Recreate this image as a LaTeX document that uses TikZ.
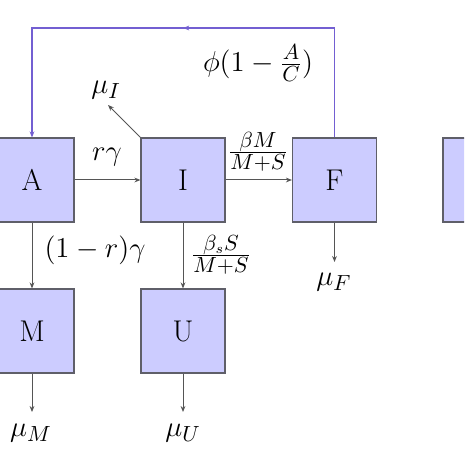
\documentclass[tikz,border=0pt]{standalone}
\usetikzlibrary{arrows.meta,decorations.markings}
\definecolor{boxfill}{RGB}{204,204,255}
\definecolor{boxline}{RGB}{95,95,105}
\definecolor{arrline}{RGB}{85,85,85}
\definecolor{loopcol}{RGB}{115,95,210}
\begin{document}
\begin{tikzpicture}[x=0.5pt,y=-0.5pt,
  font=\fontsize{15}{18}\selectfont,
  comp/.style={draw=boxline,fill=boxfill,line width=0.6pt,minimum size=42pt,inner sep=0pt},
  flow/.style={draw=arrline,line width=0.5pt,-{Stealth[length=3pt,width=2.4pt]}},
  loopline/.style={draw=loopcol,line width=0.6pt,-{Stealth[length=3pt,width=2.4pt]},
    postaction={decorate},
    decoration={markings,mark=at position 0.5 with {\arrow{Stealth[length=3pt,width=2.4pt]}}}},
  lab/.style={inner sep=0pt,font=\fontsize{15}{18}\selectfont}]
\useasboundingbox (0,0) rectangle (464,464);
\clip (0,0) rectangle (464,464);
\node[comp] (A) at (32,180) {A};
\node[comp] (I) at (183,180) {I};
\node[comp] (F) at (334.5,180) {F};
\node[comp] (X) at (485,180) {};
\node[comp] (M) at (32,331) {M};
\node[comp] (U) at (183,331) {U};
\coordinate (top) at (31,28);
\coordinate (muIend) at (108,105);
\coordinate (muFend) at (334.5,262);
\coordinate (muMend) at (32,412);
\coordinate (muUend) at (183,412);
% flows
\draw[flow] (A) -- (I);
\draw[flow] (I) -- (F);
\draw[flow] (A) -- (M);
\draw[flow] (I) -- (U);
\draw[flow] (I.north west) -- (muIend);
\draw[flow] (F) -- (muFend);
\draw[flow] (M) -- (muMend);
\draw[flow] (U) -- (muUend);
\draw[loopline] (F.north) |- (A.north |- top) -- (A.north);
% labels
\node[lab] (lrg) at (107,157) {$r\gamma$};
\node[lab] (lbm) at (258,152) {$\frac{\beta M}{M+S}$};
\node[lab] (lphi) at (258,63) {$\phi(1-\frac{A}{C})$};
\node[lab] (lmuI) at (106,90) {$\mu_I$};
\node[lab] (l1r) at (95,250) {$(1-r)\gamma$};
\node[lab] (lbs) at (221,255) {$\frac{\beta_s S}{M+S}$};
\node[lab] (lmuF) at (334,282) {$\mu_F$};
\node[lab] (lmuM) at (31,433) {$\mu_M$};
\node[lab] (lmuU) at (183,433) {$\mu_U$};
\end{tikzpicture}
\end{document}
